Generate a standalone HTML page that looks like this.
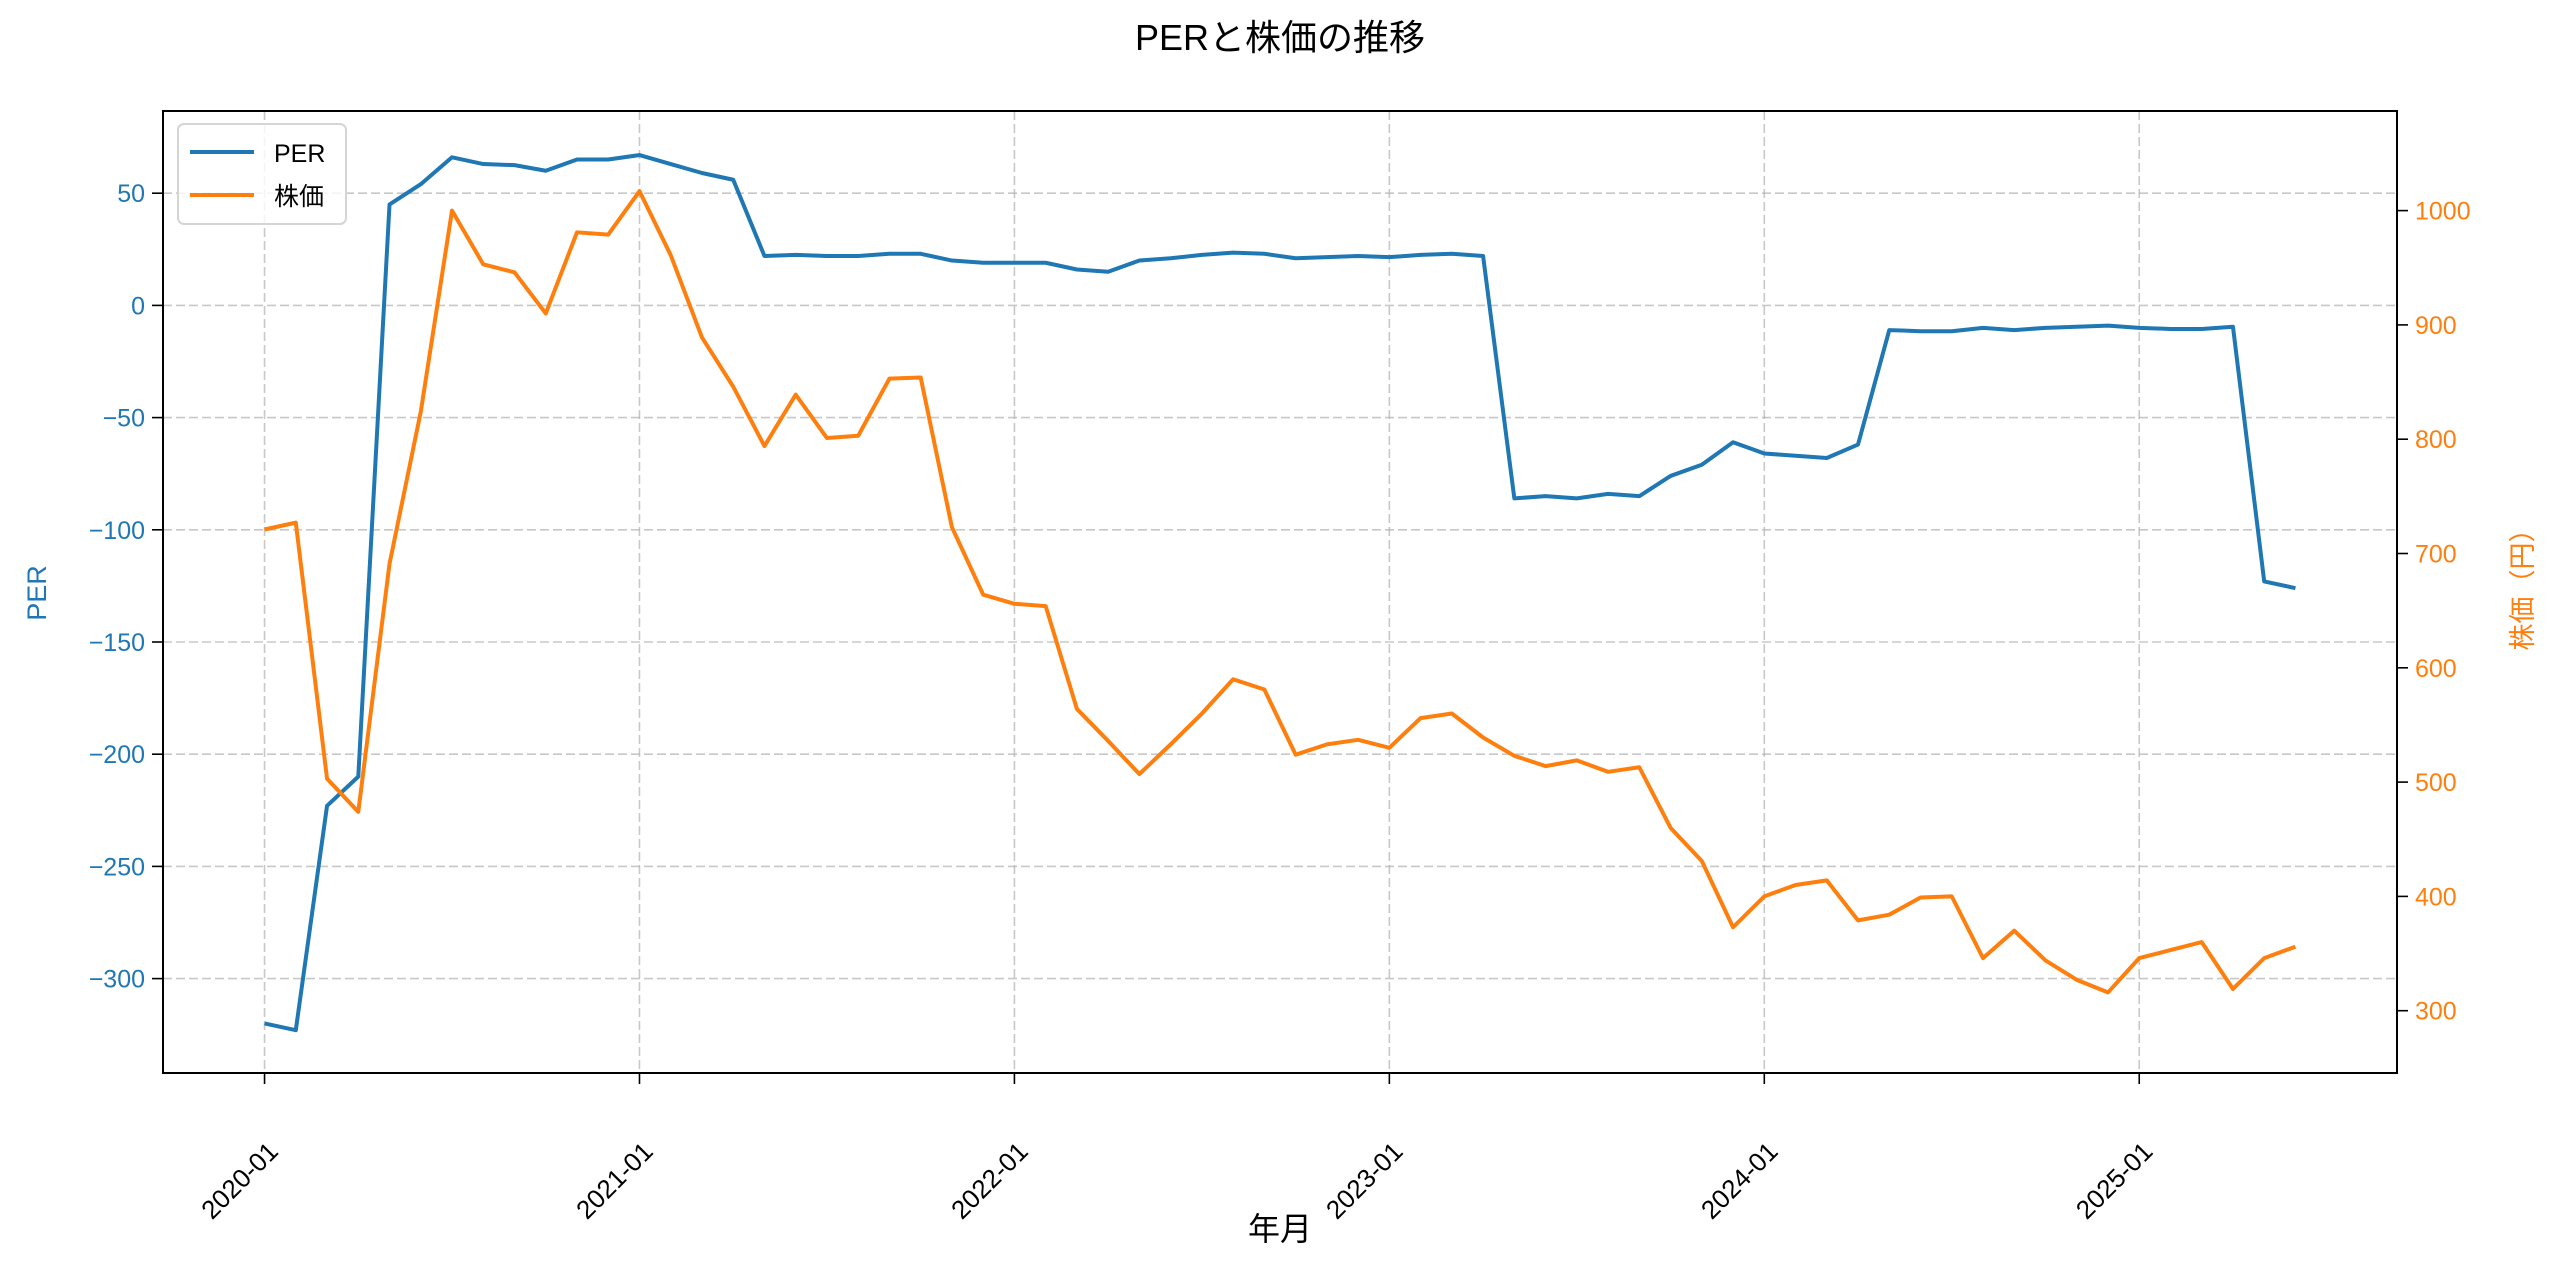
<!DOCTYPE html>
<html><head><meta charset="utf-8"><style>
body{margin:0;background:#fff}
svg{display:block;font-family:"Liberation Sans","Noto Sans CJK JP",sans-serif}
</style></head><body>
<svg id="chart" width="2560" height="1268" viewBox="0 0 2560 1268">
<text x="1280" y="50" text-anchor="middle" font-size="36" fill="#000">PERと株価の推移</text>
<g id="grid"></g>
<g id="lines"></g>
<rect x="163" y="111" width="2234" height="962" fill="none" stroke="#000" stroke-width="2"/>
<g id="axes"></g>
<text x="1280" y="1240" text-anchor="middle" font-size="32">年月</text>
<text transform="translate(46,593) rotate(-90)" text-anchor="middle" font-size="27" fill="#1f77b4">PER</text>
<text transform="translate(2532,583) rotate(-90)" text-anchor="middle" font-size="27" fill="#ff7f0e">株価（円）</text>
<g>
<rect x="178" y="124" width="168" height="100" rx="6" fill="#fff" fill-opacity="0.8" stroke="#d5d5d5" stroke-width="2"/>
<line x1="190" y1="152" x2="254" y2="152" stroke="#1f77b4" stroke-width="4"/>
<text x="274" y="162" font-size="25">PER</text>
<line x1="190" y1="195" x2="254" y2="195" stroke="#ff7f0e" stroke-width="4"/>
<text x="274" y="205" font-size="25">株価</text>
</g>
</svg>
<script>
const per = [-320,-323,-223,-210,45,54,66,63,62.5,60,65,65,67,63,59,56,22,22.5,22,22,23,23,20,19,19,19,16,15,20,21,22.5,23.5,23,21,21.5,22,21.5,22.5,23,22,-86,-85,-86,-84,-85,-76,-71,-61,-66,-67,-68,-62,-11,-11.5,-11.5,-10,-11,-10,-9.5,-9,-10,-10.5,-10.5,-9.5,-123,-126];
const price = [721,727,503,474,691,824,1000,953,946,910,981,979,1017,961,889,846,794,839,801,803,853,854,723,664,656,654,564,536,507,533,560,590,581,524,533,537,530,556,560,539,523,514,519,509,513,460,431,373,400,410,414,379,384,399,400,346,370,344,327,316,346,353,360,319,346,356];
const xTicks = ["2020-01","2021-01","2022-01","2023-01","2024-01","2025-01"];
const leftTicks = [50,0,-50,-100,-150,-200,-250,-300];
const rightTicks = [1000,900,800,700,600,500,400,300];

const L=163,R=2397,T=111,B=1073;
const nMonths = per.length-1;
const mx=nMonths*0.05;
const x = i => L+(i+mx)/(nMonths+2*mx)*(R-L);
const yL = v => 305.4-(v/50)*112.2;
const yR = v => 210.6+(1000-v)/100*114.3;
const NS="http://www.w3.org/2000/svg";
function mk(tag,attrs,parent){const e=document.createElementNS(NS,tag);for(const k in attrs)e.setAttribute(k,attrs[k]);parent.appendChild(e);return e;}
const grid=document.getElementById('grid'),axes=document.getElementById('axes'),lines=document.getElementById('lines');

xTicks.forEach((t,k)=>{
  const px=x(k*12);
  const g=mk('line',{x1:px,x2:px,y1:T,y2:B,stroke:'#b0b0b0','stroke-opacity':0.7,'stroke-width':1.6,'stroke-dasharray':'9,4'},grid);
  
  
  const tk=mk('line',{x1:px,x2:px,y1:B,y2:B+11,stroke:'#000','stroke-width':1.6},axes);
  
  
  const tx=mk('text',{transform:`translate(${px+15},${B+80}) rotate(-45)`,'text-anchor':'end','font-size':26,fill:'#000'},axes);
  tx.textContent=t;
  
  
});
leftTicks.forEach(v=>{
  const py=yL(v);
  const g=mk('line',{x1:L,x2:R,y1:py,y2:py,stroke:'#b0b0b0','stroke-opacity':0.7,'stroke-width':1.6,'stroke-dasharray':'9,4'},grid);
  
  
  const tk=mk('line',{x1:L-11,x2:L,y1:py,y2:py,stroke:'#000','stroke-width':1.6},axes);
  
  
  const tx=mk('text',{x:L-18,y:py+9,'text-anchor':'end','font-size':25,fill:'#1f77b4'},axes);
  tx.textContent=v<0?'\u2212'+(-v):String(v);
  
  
});
rightTicks.forEach(v=>{
  const py=yR(v);
  const tk=mk('line',{x1:R,x2:R+11,y1:py,y2:py,stroke:'#000','stroke-width':1.6},axes);
  
  
  const tx=mk('text',{x:R+18,y:py+9,'text-anchor':'start','font-size':25,fill:'#ff7f0e'},axes);
  tx.textContent=String(v);
  
  
});
const p1=mk('polyline',{points:per.map((v,i)=>x(i)+','+yL(v)).join(' '),fill:'none',stroke:'#1f77b4','stroke-width':4,'stroke-linejoin':'round'},lines);


const p2=mk('polyline',{points:price.map((v,i)=>x(i)+','+yR(v)).join(' '),fill:'none',stroke:'#ff7f0e','stroke-width':4,'stroke-linejoin':'round'},lines);


</script>
</body></html>
